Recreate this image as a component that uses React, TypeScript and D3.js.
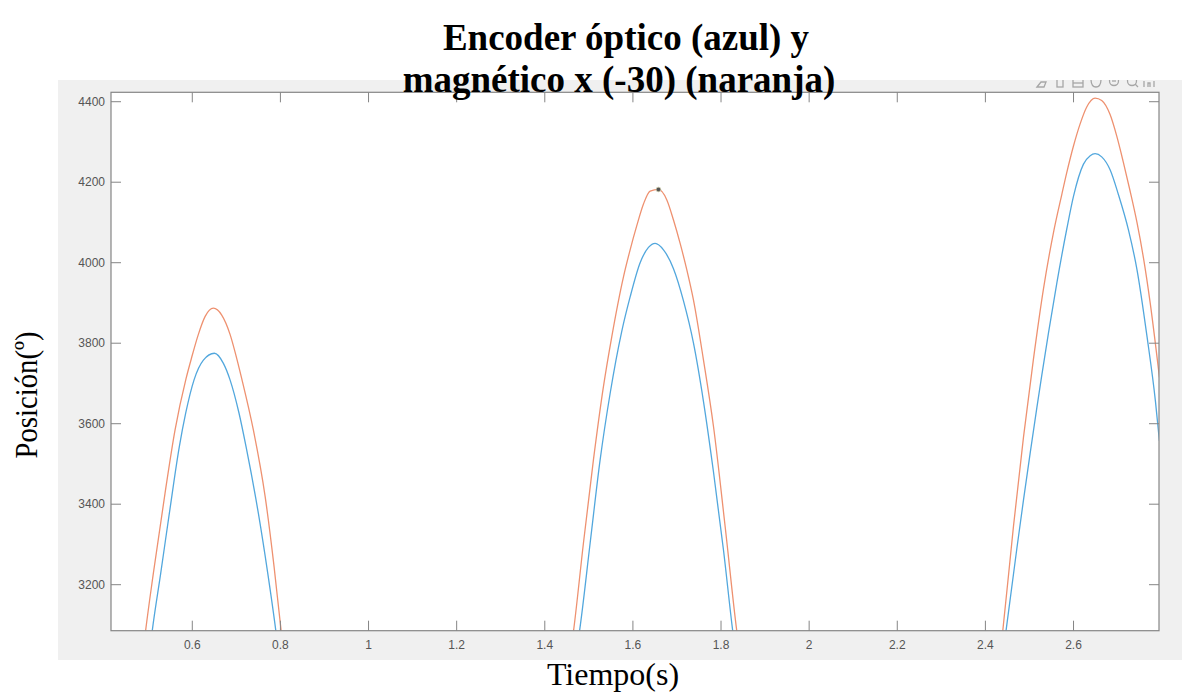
import React from "react";
import * as d3 from "d3";

// ---------- data ----------
const TITLE_LINES = ["Encoder óptico (azul) y", "magnético x (-30) (naranja)"];
const X_LABEL = "Tiempo(s)";
const Y_LABEL = "Posición(º)";

const X_TICKS = [0.6, 0.8, 1, 1.2, 1.4, 1.6, 1.8, 2, 2.2, 2.4, 2.6];
const Y_TICKS = [3200, 3400, 3600, 3800, 4000, 4200, 4400];
const X_DOMAIN = [0.4155, 2.794];
const Y_DOMAIN = [3085.7, 4423.4];

// Optical encoder (blue) — three arcs: [time, position]
const opticalArc1: [number, number][] = [
  [0.5062, 3060], [0.5093, 3087], [0.5283, 3228], [0.5479, 3377], [0.5706, 3543],
  [0.585, 3626], [0.604, 3709], [0.6252, 3758], [0.6501, 3775], [0.6706, 3750],
  [0.6857, 3709], [0.7061, 3626], [0.722, 3543], [0.75, 3377], [0.7713, 3228],
  [0.7894, 3087], [0.7925, 3060],
];
const opticalArc2: [number, number][] = [
  [1.4755, 3060], [1.4786, 3083], [1.5029, 3303], [1.5256, 3510], [1.5483, 3675],
  [1.5748, 3830], [1.5937, 3915], [1.6164, 4000], [1.6353, 4038], [1.6505, 4048],
  [1.6694, 4032], [1.6921, 3985], [1.7148, 3905], [1.7375, 3800], [1.7602, 3655],
  [1.7829, 3480], [1.8057, 3285], [1.8268, 3083], [1.8295, 3060],
];
const opticalArc3: [number, number][] = [
  [2.4438, 3060], [2.447, 3087], [2.4714, 3290], [2.4864, 3410], [2.5016, 3527],
  [2.5168, 3640], [2.5282, 3722], [2.5431, 3825], [2.5622, 3950], [2.5849, 4085],
  [2.5999, 4165], [2.6226, 4245], [2.6378, 4266], [2.649, 4271], [2.664, 4263],
  [2.683, 4231], [2.702, 4169], [2.7248, 4081], [2.744, 3983], [2.767, 3815],
  [2.786, 3655], [2.795, 3557],
];

// Magnetic encoder x (-30) (orange) — three arcs
const magneticArc1: [number, number][] = [
  [0.4912, 3060], [0.4942, 3087], [0.5116, 3228], [0.5381, 3427], [0.5608, 3584],
  [0.5858, 3712], [0.5987, 3765], [0.6138, 3822], [0.6289, 3866], [0.6479, 3887],
  [0.6668, 3870], [0.6857, 3822], [0.6971, 3778], [0.7122, 3712], [0.7387, 3584],
  [0.7652, 3420], [0.7856, 3245], [0.8015, 3087], [0.8045, 3060],
];
const magneticArc2: [number, number][] = [
  [1.4622, 3060], [1.465, 3083], [1.4877, 3303], [1.5104, 3510], [1.5331, 3692],
  [1.552, 3816], [1.5786, 3965], [1.5937, 4032], [1.6088, 4092], [1.624, 4146],
  [1.6391, 4178], [1.658, 4182], [1.677, 4156], [1.6921, 4106], [1.7072, 4048],
  [1.7224, 3982], [1.7375, 3907], [1.7602, 3758], [1.7829, 3593], [1.8094, 3344],
  [1.836, 3083], [1.8388, 3060],
];
const magneticArc3: [number, number][] = [
  [2.4368, 3060], [2.4396, 3087], [2.4637, 3345], [2.4864, 3566], [2.5091, 3761],
  [2.5318, 3935], [2.5545, 4075], [2.5735, 4170], [2.5849, 4225], [2.5999, 4290],
  [2.615, 4345], [2.63, 4387], [2.649, 4409], [2.664, 4403], [2.683, 4368],
  [2.698, 4315], [2.713, 4250], [2.728, 4180], [2.744, 4100], [2.759, 4010],
  [2.774, 3900], [2.795, 3715],
];

const DATA_TIP: [number, number] = [1.658, 4182];

const OPTICAL_COLOR = "#52a7dd";
const MAGNETIC_COLOR = "#ee9170";

// ---------- layout ----------
const W = 1182;
const H = 696;
const PANEL = { x: 58, y: 80, w: 1124, h: 580 };
const PLOT = { left: 111, top: 92.3, right: 1159, bottom: 630.7 };

export default function App() {
  const x = d3.scaleLinear().domain(X_DOMAIN).range([PLOT.left, PLOT.right]);
  const y = d3.scaleLinear().domain(Y_DOMAIN).range([PLOT.bottom, PLOT.top]);
  const line = d3
    .line<[number, number]>()
    .x((d) => x(d[0]))
    .y((d) => y(d[1]))
    .curve(d3.curveMonotoneX);

  const optical = [opticalArc1, opticalArc2, opticalArc3];
  const magnetic = [magneticArc1, magneticArc2, magneticArc3];
  const axisColor = "#858585";
  const tickLen = 10;
  const fmt = (v: number) => String(+v.toFixed(1));

  const iconY = 79;
  const icons = [1042, 1060, 1078, 1096, 1114, 1132, 1149];

  return (
    <svg
      width={W}
      height={H}
      style={{ position: "fixed", left: 0, top: 0, background: "#ffffff" }}
    >
      <defs>
        <clipPath id="plotClip">
          <rect
            x={PLOT.left}
            y={PLOT.top}
            width={PLOT.right - PLOT.left}
            height={PLOT.bottom - PLOT.top}
          />
        </clipPath>
        <clipPath id="iconClip">
          <rect x={1030} y={80} width={140} height={12} />
        </clipPath>
      </defs>
      <rect x={0} y={0} width={W} height={H} fill="#ffffff" />
      <rect x={PANEL.x} y={PANEL.y} width={PANEL.w} height={PANEL.h} fill="#f0f0f0" />
      <rect
        x={PLOT.left}
        y={PLOT.top}
        width={PLOT.right - PLOT.left}
        height={PLOT.bottom - PLOT.top}
        fill="#ffffff"
      />

      <g clipPath="url(#plotClip)" fill="none" strokeWidth={1.3} strokeLinejoin="round">
        {magnetic.map((arc, i) => (
          <path key={"m" + i} d={line(arc) || ""} stroke={MAGNETIC_COLOR} />
        ))}
        {optical.map((arc, i) => (
          <path key={"o" + i} d={line(arc) || ""} stroke={OPTICAL_COLOR} />
        ))}
      </g>

      {/* axes box */}
      <rect
        x={PLOT.left}
        y={PLOT.top}
        width={PLOT.right - PLOT.left}
        height={PLOT.bottom - PLOT.top}
        fill="none"
        stroke={axisColor}
        strokeWidth={1.2}
      />
      {X_TICKS.map((t) => (
        <g key={"xt" + t}>
          <line x1={x(t)} x2={x(t)} y1={PLOT.bottom} y2={PLOT.bottom - tickLen} stroke={axisColor} />
          <line x1={x(t)} x2={x(t)} y1={PLOT.top} y2={PLOT.top + tickLen} stroke={axisColor} />
          <text
            x={x(t)}
            y={648.5}
            textAnchor="middle"
            fontFamily="'Liberation Sans', Arial, sans-serif"
            fontSize={12}
            fill="#555"
          >
            {fmt(t)}
          </text>
        </g>
      ))}
      {Y_TICKS.map((v) => (
        <g key={"yt" + v}>
          <line x1={PLOT.left} x2={PLOT.left + tickLen} y1={y(v)} y2={y(v)} stroke={axisColor} />
          <line x1={PLOT.right} x2={PLOT.right - tickLen} y1={y(v)} y2={y(v)} stroke={axisColor} />
          <text
            x={105}
            y={y(v) + 4.2}
            textAnchor="end"
            fontFamily="'Liberation Sans', Arial, sans-serif"
            fontSize={12}
            fill="#555"
          >
            {v}
          </text>
        </g>
      ))}

      {/* data tip marker */}
      <circle cx={x(DATA_TIP[0])} cy={y(DATA_TIP[1])} r={2.3} fill="#555" stroke="#c9c9a8" strokeWidth={0.8} />

      {/* toolbar icons (partially hidden) */}
      <g clipPath="url(#iconClip)" stroke="#a6a6a6" strokeWidth={1.3} fill="none">
        <path d={`M${icons[0] - 5},${iconY + 8} l4,-5 l5,0 l-2,5 z`} />
        <rect x={icons[1] - 3} y={iconY} width={6} height={8} />
        <rect x={icons[2] - 5} y={iconY} width={10} height={8} />
        <line x1={icons[2] - 5} x2={icons[2] + 5} y1={iconY + 4} y2={iconY + 4} />
        <path d={`M${icons[3] - 5},${iconY} q0,8 5,8 q5,0 5,-8`} />
        <circle cx={icons[4]} cy={iconY + 2} r={4.5} />
        <line x1={icons[4] - 2} x2={icons[4] + 2} y1={iconY + 2} y2={iconY + 2} />
        <circle cx={icons[5]} cy={iconY + 2} r={4.5} />
        <line x1={icons[5] + 3} x2={icons[5] + 6} y1={iconY + 5} y2={iconY + 8} />
        <path d={`M${icons[6] - 5},${iconY + 8} l0,-6 M${icons[6] + 5},${iconY + 8} l0,-6 M${icons[6] - 1},${iconY + 8} l0,-4 l2,0 l0,4`} />
      </g>

      {/* title */}
      <g fontFamily="'Liberation Serif', 'Times New Roman', serif" fontWeight="bold" fontSize={37} fill="#000" textAnchor="middle">
        <text x={626} y={50}>{TITLE_LINES[0]}</text>
        <text x={619} y={91.5}>{TITLE_LINES[1]}</text>
      </g>

      {/* axis labels */}
      <text
        x={613}
        y={685}
        textAnchor="middle"
        fontFamily="'Liberation Serif', 'Times New Roman', serif"
        fontSize={32}
        fill="#000"
      >
        {X_LABEL}
      </text>
      <text
        transform="translate(37,395) rotate(-90)"
        textAnchor="middle"
        fontFamily="'Liberation Serif', 'Times New Roman', serif"
        fontSize={32}
        textLength={127}
        lengthAdjust="spacingAndGlyphs"
        fill="#000"
      >
        {Y_LABEL}
      </text>
    </svg>
  );
}
